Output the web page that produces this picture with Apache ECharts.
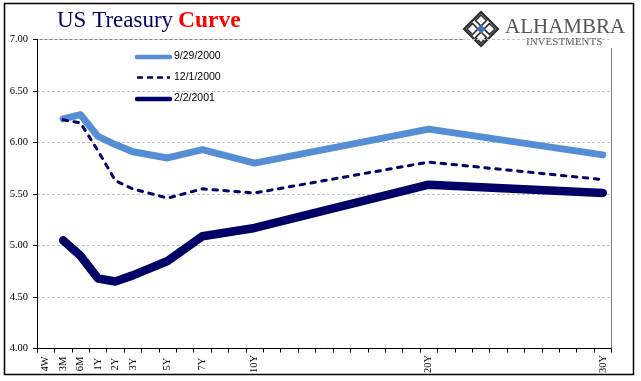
<!DOCTYPE html>
<html><head><meta charset="utf-8"><style>html,body{margin:0;padding:0;background:#fff}#c{width:641px;height:381px}</style>
<script src="https://cdn.jsdelivr.net/npm/echarts@6/dist/echarts.min.js"></script></head>
<body><div id="c"></div>
<script>
const categories=['4W','3M','6M','1Y','2Y','3Y','','5Y','','7Y','','','10Y','','','','','','','','','','20Y','','','','','','','','','','30Y'];
const yTicks=[4,4.5,5,5.5,6,6.5,7];
const tenors=['3M','6M','1Y','2Y','3Y','5Y','7Y','10Y','20Y','30Y'];
const sep2000=[6.23,6.27,6.06,5.98,5.91,5.85,5.93,5.80,6.13,5.88];
const dec2000=[6.22,6.19,5.92,5.63,5.55,5.46,5.55,5.51,5.81,5.64];
const feb2001=[5.05,4.90,4.68,4.65,4.71,4.85,5.09,5.17,5.59,5.51];
const names=['9/29/2000','12/1/2000','2/2/2001'];
const toSeries=v=>categories.map(c=>{const i=tenors.indexOf(c);return i<0?null:v[i];});
const chart=echarts.init(document.getElementById('c'),null,{renderer:'canvas'});
const serif='"Liberation Serif","DejaVu Serif",serif', sans='"Liberation Sans",Arial,sans-serif';
const line=(name,data,color,width,type,cap)=>({name,type:'line',data:toSeries(data),connectNulls:true,symbol:'none',smooth:false,
  lineStyle:{color,width,type,cap,join:'round'},itemStyle:{color}});
const logoGray='#555555', ink='#2a2a2a';
const cx=481,cy=29;
const dia=(x,y,r,st)=>({type:'polygon',shape:{points:[[x,y-r],[x+r,y],[x,y+r],[x-r,y]]},style:st});
const logo=[
 dia(cx,cy,17,{fill:'#fff',stroke:ink,lineWidth:2.2}),
 dia(cx,cy-8.5,5.5,{fill:'none',stroke:ink,lineWidth:1.6}),
 dia(cx,cy+8.5,5.5,{fill:'none',stroke:ink,lineWidth:1.6}),
 dia(cx-8.5,cy,5.5,{fill:'none',stroke:ink,lineWidth:1.6}),
 dia(cx+8.5,cy,5.5,{fill:'none',stroke:ink,lineWidth:1.6}),
 dia(cx,cy,4.5,{fill:'#3f74bb'})
];
chart.setOption({
 animation:false,backgroundColor:'#fff',
 grid:{left:37,right:29.5,top:39.5,bottom:32.5,show:false},
 xAxis:{type:'category',data:categories,boundaryGap:true,
  axisLine:{lineStyle:{color:'#000',width:1}},
  axisTick:{show:true,interval:0,length:4,lineStyle:{color:'#000'}},
  axisLabel:{interval:0,rotate:90,align:'center',fontFamily:serif,fontSize:10.5,color:'#000',margin:15.5},
  splitLine:{show:false}},
 yAxis:{type:'value',min:4,max:7,interval:0.5,
  axisLine:{show:true,lineStyle:{color:'#000',width:1}},
  axisTick:{show:true,length:4,lineStyle:{color:'#000'}},
  axisLabel:{fontFamily:serif,fontSize:10.5,color:'#000',margin:9,formatter:v=>yTicks.includes(v)?v.toFixed(2):''},
  splitLine:{show:true,lineStyle:{color:'#c4c4c4',type:[3,2],width:1}}},
 series:[line(names[0],sep2000,'#558ed5',7,'solid','round'),line(names[1],dec2000,'#000066',3,[4.5,6.5],'round'),line(names[2],feb2001,'#000066',8.5,'solid','round')],
 graphic:[
  {type:'rect',shape:{x:4.5,y:3.5,width:629,height:371},style:{fill:'none',stroke:'#000',lineWidth:1.5},silent:true},
  {type:'line',shape:{x1:462,y1:39.5,x2:613,y2:39.5},style:{stroke:'#fff',lineWidth:2}},
  {type:'line',shape:{x1:37,y1:39.5,x2:462,y2:39.5},style:{stroke:'#808080',lineWidth:1}},
  {type:'line',shape:{x1:611.5,y1:48,x2:611.5,y2:348.5},style:{stroke:'#808080',lineWidth:1}},
  {type:'text',left:57,top:9,style:{text:'US Treasury',font:'23px '+serif,fill:'#000066'}},
  {type:'text',left:178,top:9,style:{text:'Curve',font:'bold 23.5px '+serif,fill:'#ff0000'}},
  {type:'line',shape:{x1:137,y1:57,x2:170,y2:57},style:{stroke:'#558ed5',lineWidth:4.5,lineCap:'round'}},
  {type:'line',shape:{x1:137,y1:77.5,x2:170,y2:77.5},style:{stroke:'#000066',lineWidth:2.5,lineDash:[6,4]}},
  {type:'line',shape:{x1:137,y1:99,x2:170,y2:99},style:{stroke:'#000066',lineWidth:4.5,lineCap:'round'}},
  {type:'text',left:174,top:51,style:{text:names[0],font:'10.5px '+sans,fill:'#000'}},
  {type:'text',left:174,top:72,style:{text:names[1],font:'10.5px '+sans,fill:'#000'}},
  {type:'text',left:174,top:93,style:{text:names[2],font:'10.5px '+sans,fill:'#000'}},
  ...logo,
  {type:'text',left:505,top:17,style:{text:'ALHAMBRA',font:'21px '+serif,fill:logoGray}},
  {type:'text',left:526,top:37,style:{text:'INVESTMENTS',font:'11px '+serif,fill:logoGray}}
 ]
});
</script></body></html>
